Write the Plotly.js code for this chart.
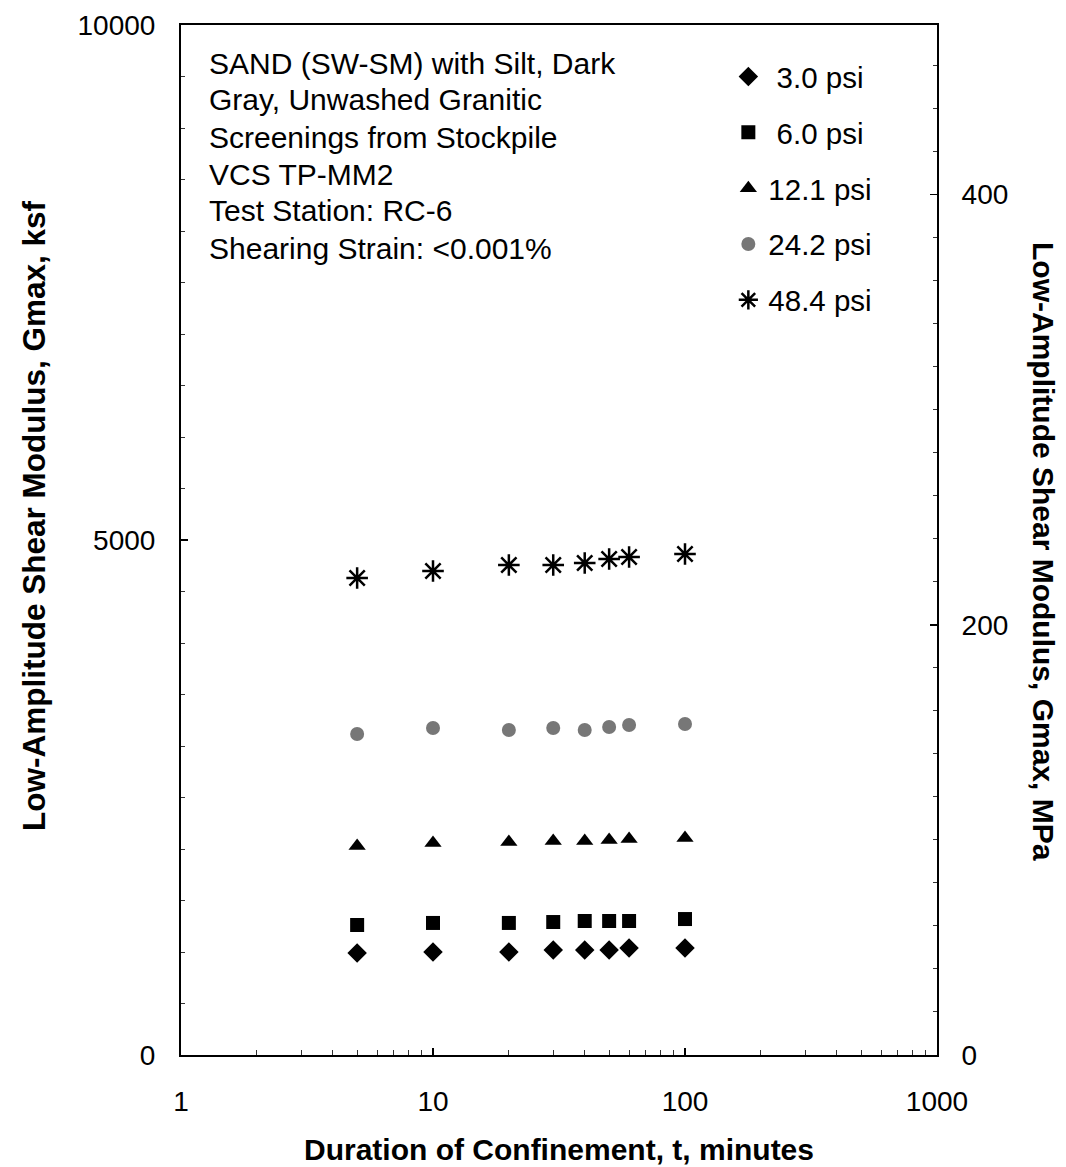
<!DOCTYPE html>
<html>
<head>
<meta charset="utf-8">
<script src="https://cdn.plot.ly/plotly-3.0.1.min.js"></script>
<style>html,body{margin:0;padding:0;background:#fff;}#chart{width:1066px;height:1167px;}</style>
</head>
<body>
<div id="chart"></div>
<script>
// Data (Gmax in ksf vs duration of confinement in minutes)
const durations = [5, 10, 20, 30, 40, 50, 60, 100];
const g_3_0  = [990, 1000, 1000, 1020, 1020, 1020, 1040, 1040];
const g_6_0  = [1262, 1282, 1282, 1291, 1301, 1301, 1301, 1320];
const g_12_1 = [2029, 2058, 2068, 2078, 2078, 2087, 2097, 2107];
const g_24_2 = [3117, 3175, 3155, 3175, 3155, 3184, 3204, 3214];
const g_48_4 = [4631, 4699, 4757, 4757, 4777, 4816, 4835, 4864];
const seriesNames = [' 3.0 psi', ' 6.0 psi', '12.1 psi', '24.2 psi', '48.4 psi'];
const noteLines = ['SAND (SW-SM) with Silt, Dark', 'Gray, Unwashed Granitic', 'Screenings from Stockpile', 'VCS TP-MM2', 'Test Station: RC-6', 'Shearing Strain: <0.001%'];
const xTickVals = [1, 10, 100, 1000];
const xTickText = ['1', '10', '100', '1000'];
const yTickVals = [0, 5000, 10000];
const yTickText = ['0', '5000', '10000'];
const y2TickVals = [0, 200, 400];
const ksfToMPa = 0.04788;
const yMaxKsf = 10000;

const FONT = 'Arial, "Liberation Sans", sans-serif';
const styles = [
  {symbol: 'diamond', size: 15, color: '#000'},
  {symbol: 'square', size: 14, color: '#000'},
  {symbol: 'triangle-up', size: 15, color: '#000'},
  {symbol: 'circle', size: 14, color: '#777'},
  {symbol: 'asterisk-open', size: 18, color: '#000', line: {width: 2.5, color: '#000'}}
];
const allY = [g_3_0, g_6_0, g_12_1, g_24_2, g_48_4];
const traces = allY.map((ys, i) => ({
  x: durations, y: ys, type: 'scatter', mode: 'markers', name: seriesNames[i],
  legendgroup: 'g' + i,
  marker: Object.assign({symbol: styles[i].symbol, size: styles[i].size, color: styles[i].color},
          styles[i].line ? {line: styles[i].line} : {line: {width: 0}}),
  xaxis: 'x', yaxis: 'y'
}));
// same data expressed in MPa on the secondary axis (invisible; keeps right axis drawn)
traces.push({
  x: durations, y: g_3_0.map(v => v * ksfToMPa), type: 'scatter', mode: 'markers',
  marker: {opacity: 0}, showlegend: false, hoverinfo: 'skip', xaxis: 'x', yaxis: 'y2'
});

const annotations = noteLines.map((t, i) => ({
  xref: 'paper', yref: 'paper', x: 0.035, y: 1 - (38 + i * 37) / 1030,
  xanchor: 'left', yanchor: 'middle', showarrow: false, align: 'left',
  text: t, font: {family: FONT, size: 30, color: '#000'}
}));
annotations.push({
  xref: 'paper', yref: 'paper', x: 1 + (1044 - 937) / 756, y: 1 - (551 - 25) / 1030,
  xanchor: 'center', yanchor: 'middle', showarrow: false, textangle: 90,
  text: '<b>Low-Amplitude Shear Modulus, Gmax, MPa</b>',
  font: {family: FONT, size: 30, color: '#000'}
});
annotations.push({
  xref: 'paper', yref: 'paper', x: (34 - 181) / 756, y: 1 - (516 - 25) / 1030,
  xanchor: 'center', yanchor: 'middle', showarrow: false, textangle: -90,
  text: '<b>Low-Amplitude Shear Modulus, Gmax, ksf</b>',
  font: {family: FONT, size: 31.5, color: '#000'}
});

const tickFont = {family: FONT, size: 28, color: '#000'};
const layout = {
  width: 1066, height: 1167,
  margin: {l: 181, r: 129, t: 25, b: 112},
  paper_bgcolor: '#fff', plot_bgcolor: '#fff',
  showlegend: true,
  legend: {
    x: 0.724, y: 0.975, xanchor: 'left', yanchor: 'top',
    traceorder: 'grouped', tracegroupgap: 14.5,
    font: {family: FONT, size: 29.5, color: '#000'},
    bgcolor: 'rgba(0,0,0,0)', itemwidth: 30
  },
  xaxis: {
    type: 'log', range: [0, 3],
    tickmode: 'array', tickvals: xTickVals, ticktext: xTickText,
    ticks: 'inside', ticklen: 7, tickwidth: 1.5, tickcolor: '#000',
    minor: {tickmode: 'array', tickvals: [2,3,4,5,6,7,8,9,20,30,40,50,60,70,80,90,200,300,400,500,600,700,800,900],
            ticks: 'inside', ticklen: 5, tickwidth: 1, tickcolor: '#333', showgrid: false},
    showgrid: false, zeroline: false,
    showline: true, linecolor: '#000', linewidth: 2, mirror: true,
    tickfont: tickFont,
    ticklabelstandoff: 20,
    title: {text: '<b>Duration of Confinement, t, minutes</b>', font: {family: FONT, size: 30, color: '#000'}, standoff: 23}
  },
  yaxis: {
    range: [0, yMaxKsf], tickmode: 'array', tickvals: yTickVals, ticktext: yTickText,
    ticks: 'inside', ticklen: 7, tickwidth: 1.5, tickcolor: '#000',
    minor: {dtick: 500, ticks: 'inside', ticklen: 4, tickwidth: 1, tickcolor: '#333', showgrid: false},
    showgrid: false, zeroline: false,
    showline: true, linecolor: '#000', linewidth: 2,
    tickfont: tickFont,
    ticklabelstandoff: 18
  },
  yaxis2: {
    overlaying: 'y', side: 'right', anchor: 'x',
    range: [0, yMaxKsf * ksfToMPa], tickmode: 'array', tickvals: y2TickVals,
    ticks: 'inside', ticklen: 7, tickwidth: 1.5, tickcolor: '#000',
    minor: {dtick: 20, ticks: 'inside', ticklen: 4, tickwidth: 1, tickcolor: '#333', showgrid: false},
    showgrid: false, zeroline: false,
    showline: true, linecolor: '#000', linewidth: 2,
    tickfont: tickFont,
    ticklabelstandoff: 17
  },
  annotations: annotations
};

Plotly.newPlot('chart', traces, layout, {staticPlot: true, displayModeBar: false});
</script>
</body>
</html>
